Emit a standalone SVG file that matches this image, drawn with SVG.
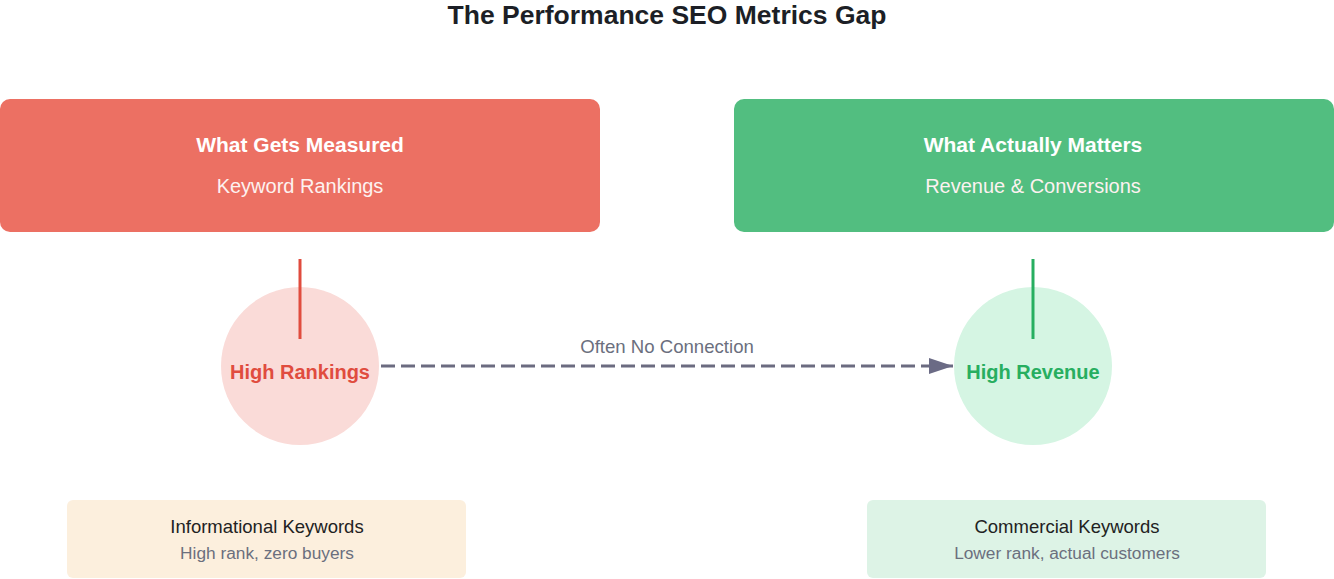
<svg xmlns="http://www.w3.org/2000/svg" width="1334" height="579" viewBox="0 0 1334 579">
<style>
text{font-family:"Liberation Sans",Arial,sans-serif;text-anchor:middle}
.title{font-size:26.5px;font-weight:bold;fill:#1c1f26}
.bh{font-size:21px;font-weight:bold;fill:#ffffff}
.bs{font-size:20px;fill:#fdf2f0}
.ch{font-size:20px;font-weight:bold}
.kh{font-size:18.5px;fill:#222222}
.ks{font-size:17.3px;fill:#6b6f7e}
.lbl{font-size:18.6px;fill:#6b6f7e}
</style>
<defs>
<marker id="arr" viewBox="0 0 10 10" refX="10" refY="5" markerWidth="24" markerHeight="16" markerUnits="userSpaceOnUse" orient="auto" preserveAspectRatio="none">
<path d="M0,0 L10,5 L0,10 z" fill="#6b6b85"/>
</marker>
</defs>
<rect width="1334" height="579" fill="#ffffff"/>
<text class="title" x="667" y="24">The Performance SEO Metrics Gap</text>

<g id="measured">
<rect x="0" y="99" width="600" height="133" rx="10" fill="#ec7063"/>
<text class="bh" x="300" y="152">What Gets Measured</text>
<text class="bs" x="300" y="193">Keyword Rankings</text>
</g>
<g id="matters">
<rect x="734" y="99" width="600" height="133" rx="10" fill="#52be80"/>
<text class="bh" x="1033" y="152">What Actually Matters</text>
<text class="bs" x="1033" y="193" fill="#f0faf4">Revenue &amp; Conversions</text>
</g>

<g id="rankings">
<circle cx="300" cy="366" r="79" fill="#fadbd8"/>
<text class="ch" x="300" y="379" fill="#e04c3e">High Rankings</text>
</g>
<g id="revenue">
<circle cx="1033" cy="366" r="79" fill="#d5f5e3"/>
<text class="ch" x="1033" y="379" fill="#27ae60">High Revenue</text>
</g>

<g id="informational">
<rect x="67" y="500" width="399" height="78" rx="6" fill="#fcefdd"/>
<text class="kh" x="267" y="533">Informational Keywords</text>
<text class="ks" x="267" y="559">High rank, zero buyers</text>
</g>
<g id="commercial">
<rect x="867" y="500" width="399" height="78" rx="6" fill="#ddf3e6"/>
<text class="kh" x="1067" y="533">Commercial Keywords</text>
<text class="ks" x="1067" y="559">Lower rank, actual customers</text>
</g>

<g id="connectors">
<line x1="300" y1="259" x2="300" y2="339" stroke="#e04c3e" stroke-width="3"/>
<line x1="1033" y1="259" x2="1033" y2="339" stroke="#27ae60" stroke-width="3"/>
<line x1="381" y1="366" x2="953" y2="366" stroke="#6b6b80" stroke-width="3" stroke-dasharray="14,6" marker-end="url(#arr)"/>
<text class="lbl" x="667" y="353">Often No Connection</text>
</g>
</svg>
